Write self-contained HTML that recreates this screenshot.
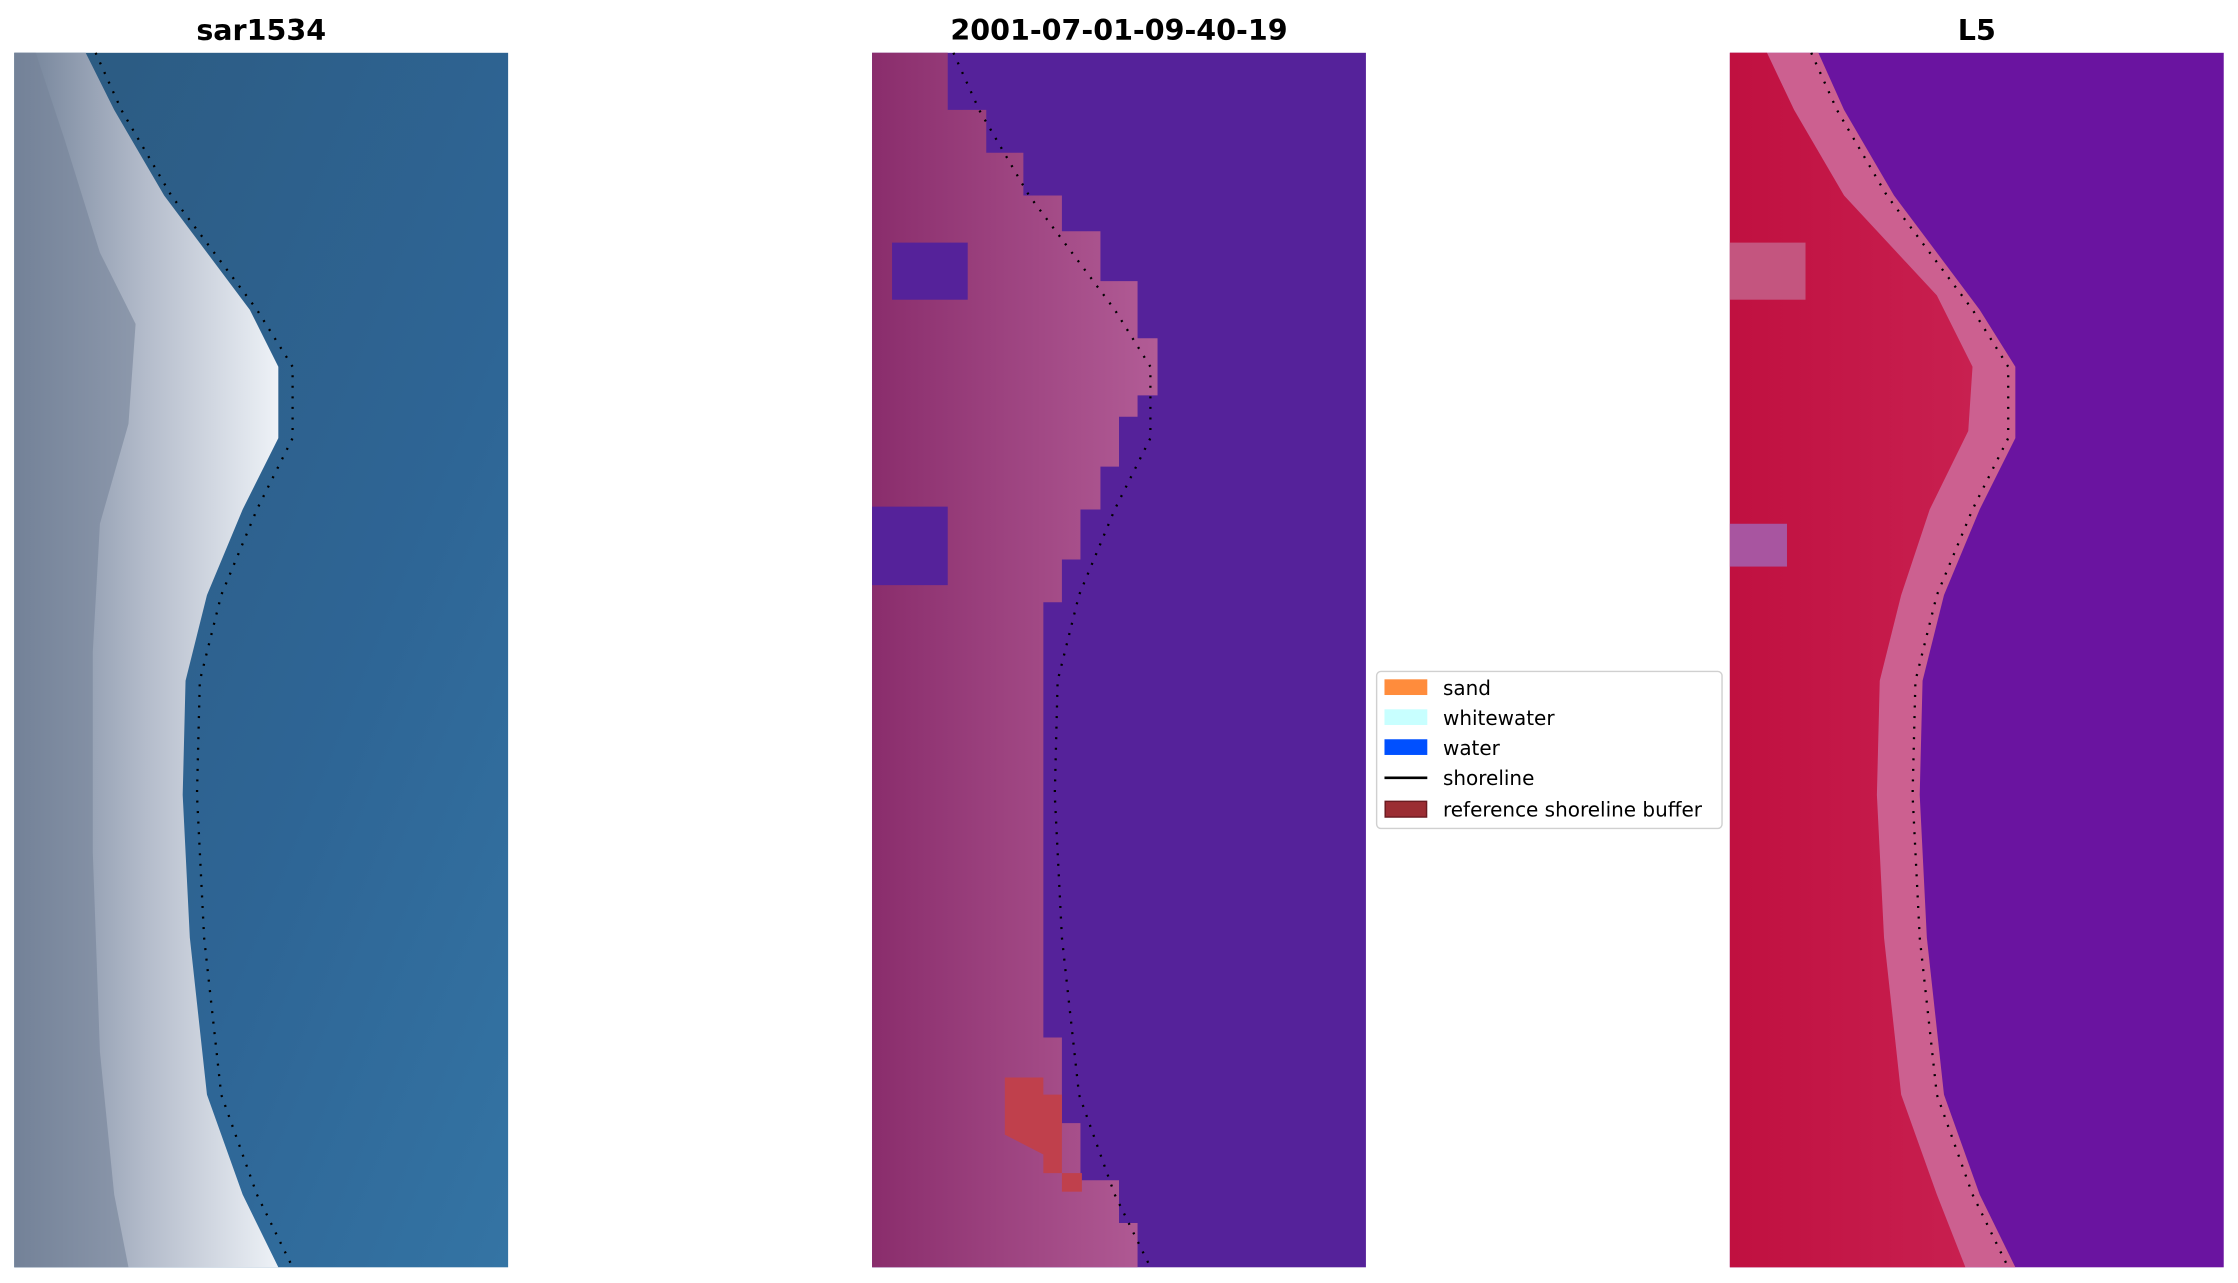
<!DOCTYPE html>
<html><head><meta charset="utf-8"><style>html,body{margin:0;padding:0;background:#fff}svg{display:block}</style></head>
<body>
<svg width="2238" height="1283" viewBox="0 0 1568 899" preserveAspectRatio="none" xmlns="http://www.w3.org/2000/svg" font-family="DejaVu Sans, Liberation Sans, sans-serif">
<defs>
<linearGradient id="w1" x1="0" x2="1" y1="0" y2="0">
<stop offset="0" stop-color="#6f7f96"/><stop offset="0.5" stop-color="#b4bccb"/><stop offset="1" stop-color="#eef2f7"/>
</linearGradient>
<linearGradient id="b1" x1="0" x2="1" y1="0" y2="1">
<stop offset="0" stop-color="#2c5a80"/><stop offset="0.6" stop-color="#2e6595"/><stop offset="1" stop-color="#3474a4"/>
</linearGradient>
<linearGradient id="p2" x1="0" x2="1" y1="0" y2="0">
<stop offset="0" stop-color="#8a2d6c"/><stop offset="1" stop-color="#b25c96"/>
</linearGradient>
<linearGradient id="r3" x1="0" x2="1" y1="0" y2="0">
<stop offset="0" stop-color="#c01040"/><stop offset="1" stop-color="#c82050"/>
</linearGradient>
<polyline id="sl" fill="none" stroke="#000" stroke-width="1.6" stroke-dasharray="1.4 6" points="57,0 75,40 110,100 170,180 195,220 195,270 170,320 145,380 130,440 128,520 133,620 145,730 170,800 195,851"/>
</defs>
<g font-weight="bold" font-size="20" text-anchor="middle" fill="#000">
<text x="183" y="28">sar1534</text>
<text x="784" y="28">2001-07-01-09-40-19</text>
<text x="1385" y="28">L5</text>
</g>
<g transform="translate(10,37)">
<rect width="346" height="851" fill="url(#b1)"/>
<polygon fill="url(#w1)" points="0,0 50,0 70,40 105,100 165,180 185,220 185,270 160,320 135,380 120,440 118,520 123,620 135,730 160,800 185,851 0,851"/>
<polygon fill="#76839a" opacity="0.6" points="0,0 15,0 35,60 60,140 85,190 80,260 60,330 55,420 55,560 60,700 70,800 80,851 0,851"/>
<use href="#sl"/>
</g>
<g transform="translate(611,37)">
<rect width="346" height="851" fill="#55229a"/>
<polygon fill="url(#p2)" points="0,0 53,0 53,40 80,40 80,70 106,70 106,100 133,100 133,125 160,125 160,160 186,160 186,200 200,200 200,240 186,240 186,255 173,255 173,290 160,290 160,320 146,320 146,355 133,355 133,385 120,385 120,650 120,690 133,690 133,750 146,750 146,790 173,790 173,820 186,820 186,851 0,851"/>
<rect x="14" y="133" width="53" height="40" fill="#55229a"/>
<rect x="0" y="318" width="53" height="55" fill="#55229a"/>
<polygon fill="#c0404c" points="93,718 120,718 120,730 133,730 133,770 133,785 120,785 120,772 93,758"/>
<rect x="133" y="785" width="14" height="13" fill="#c0404c"/>
<use href="#sl"/>
</g>
<g transform="translate(1212,37)">
<rect width="346" height="851" fill="#6a14a0"/>
<polygon fill="#cc6090" points="0,0 62,0 80,40 115,100 175,180 200,220 200,270 175,320 150,380 135,440 133,520 138,620 150,730 175,800 200,851 0,851"/>
<polygon fill="url(#r3)" points="0,0 26,0 45,40 80,100 145,170 170,220 167,265 140,320 120,380 105,440 103,520 108,620 120,730 145,800 165,851 0,851"/>
<rect x="0" y="133" width="53" height="40" fill="#c4557f"/>
<rect x="0" y="330" width="40" height="30" fill="#a855a0"/>
<use href="#sl"/>
</g>
<g>
<rect x="964.5" y="470.5" width="242" height="110" rx="3" fill="#fff" stroke="#d0d0d0"/>
<g font-size="14" fill="#000">
<rect x="970" y="476" width="30" height="11" fill="#ff8c3c"/><text x="1011" y="487">sand</text>
<rect x="970" y="497" width="30" height="11" fill="#c8ffff"/><text x="1011" y="508">whitewater</text>
<rect x="970" y="518" width="30" height="11" fill="#0050ff"/><text x="1011" y="529">water</text>
<line x1="970" x2="1000" y1="545" y2="545" stroke="#000" stroke-width="1.8"/><text x="1011" y="550">shoreline</text>
<rect x="970.5" y="561.5" width="29" height="11" fill="#9b2d33" stroke="#6a1a20"/><text x="1011" y="572">reference shoreline buffer</text>
</g>
</g>
</svg>
</body></html>
